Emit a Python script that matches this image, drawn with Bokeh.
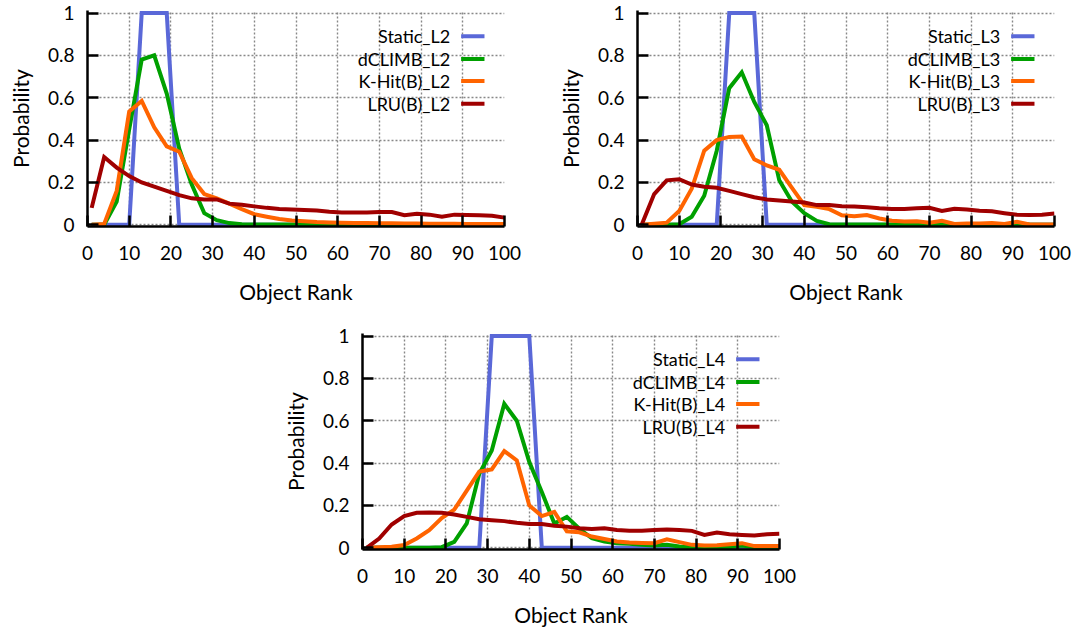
from bokeh.plotting import figure
from bokeh.models import Range1d, FixedTicker, CustomJSTickFormatter, Spacer
from bokeh.layouts import column, row
from bokeh.core.properties import value
from bokeh.embed import file_html
from bokeh.resources import INLINE

# ---------------- data ----------------
rank = [1, 4, 7, 10, 13, 16, 19, 22, 25, 28, 31, 34, 37, 40, 43, 46, 49,
        52, 55, 58, 61, 64, 67, 70, 73, 76, 79, 82, 85, 88, 91, 94, 97, 100]

x_ticks = [0, 10, 20, 30, 40, 50, 60, 70, 80, 90, 100]
y_ticks = [0, 0.2, 0.4, 0.6, 0.8, 1.0]

series_names = ["Static", "dCLIMB", "K-Hit(B)", "LRU(B)"]
levels = ["L2", "L3", "L4"]

static_L2 = [0, 0, 0, 0, 1, 1, 1, 0, 0, 0, 0, 0, 0, 0, 0, 0, 0,
             0, 0, 0, 0, 0, 0, 0, 0, 0, 0, 0, 0, 0, 0, 0, 0, 0]
dclimb_L2 = [0.0, 0.0, 0.11, 0.45, 0.78, 0.80, 0.62, 0.36, 0.19, 0.055, 0.022, 0.008, 0.003, 0.002, 0.001, 0.001, 0.001,
             0.001, 0.001, 0.0, 0.0, 0.0, 0.0, 0.0, 0.0, 0.0, 0.0, 0.0, 0.0, 0.0, 0.0, 0.0, 0.0, 0.0]
khit_L2 = [0.0, 0.004, 0.16, 0.535, 0.585, 0.46, 0.37, 0.345, 0.22, 0.145, 0.125, 0.10, 0.074, 0.05, 0.038, 0.027, 0.02,
           0.017, 0.013, 0.011, 0.01, 0.009, 0.008, 0.007, 0.007, 0.006, 0.006, 0.005, 0.005, 0.005, 0.004, 0.004, 0.004, 0.004]
lru_L2 = [0.08, 0.32, 0.27, 0.23, 0.20, 0.18, 0.16, 0.14, 0.125, 0.12, 0.12, 0.10, 0.095, 0.087, 0.08, 0.075, 0.072,
          0.07, 0.068, 0.062, 0.058, 0.058, 0.058, 0.06, 0.06, 0.045, 0.052, 0.048, 0.038, 0.048, 0.046, 0.045, 0.043, 0.034]

static_L3 = [0, 0, 0, 0, 0, 0, 0, 1, 1, 1, 0, 0, 0, 0, 0, 0, 0,
             0, 0, 0, 0, 0, 0, 0, 0, 0, 0, 0, 0, 0, 0, 0, 0, 0]
dclimb_L3 = [0.0, 0.0, 0.0, 0.003, 0.038, 0.137, 0.35, 0.645, 0.72, 0.58, 0.47, 0.21, 0.11, 0.055, 0.018, 0.003, 0.002,
             0.001, 0.001, 0.001, 0.001, 0.001, 0.001, 0.001, 0.005, 0.001, 0.001, 0.001, 0.001, 0.001, 0.005, 0.001, 0.0, 0.0]
khit_L3 = [0.0, 0.005, 0.01, 0.065, 0.17, 0.35, 0.40, 0.415, 0.417, 0.31, 0.28, 0.26, 0.176, 0.093, 0.085, 0.074, 0.045,
           0.04, 0.046, 0.03, 0.019, 0.016, 0.017, 0.01, 0.019, 0.004, 0.006, 0.006, 0.008, 0.004, 0.014, 0.002, 0.002, 0.002]
lru_L3 = [0.0, 0.145, 0.21, 0.215, 0.19, 0.18, 0.175, 0.16, 0.145, 0.13, 0.12, 0.115, 0.11, 0.105, 0.093, 0.093, 0.088,
          0.086, 0.083, 0.078, 0.075, 0.075, 0.078, 0.08, 0.065, 0.076, 0.072, 0.066, 0.064, 0.055, 0.047, 0.046, 0.047, 0.053]

static_L4 = [0, 0, 0, 0, 0, 0, 0, 0, 0, 0, 1, 1, 1, 1, 0, 0, 0,
             0, 0, 0, 0, 0, 0, 0, 0, 0, 0, 0, 0, 0, 0, 0, 0, 0]
dclimb_L4 = [0.0, 0.0, 0.0, 0.0, 0.0, 0.0, 0.003, 0.028, 0.115, 0.35, 0.46, 0.68, 0.60, 0.405, 0.264, 0.115, 0.146,
             0.09, 0.045, 0.03, 0.022, 0.019, 0.014, 0.011, 0.014, 0.006, 0.003, 0.003, 0.003, 0.003, 0.011, 0.003, 0.002, 0.002]
khit_L4 = [0.0, 0.003, 0.005, 0.013, 0.044, 0.083, 0.14, 0.18, 0.27, 0.36, 0.37, 0.457, 0.413, 0.2, 0.15, 0.17, 0.078,
           0.073, 0.053, 0.042, 0.03, 0.025, 0.023, 0.022, 0.04, 0.027, 0.014, 0.011, 0.0125, 0.017, 0.022, 0.008, 0.009, 0.009]
lru_L4 = [0.0, 0.044, 0.11, 0.15, 0.165, 0.167, 0.165, 0.157, 0.146, 0.135, 0.13, 0.126, 0.118, 0.112, 0.112, 0.104, 0.1,
          0.092, 0.089, 0.092, 0.084, 0.081, 0.08, 0.084, 0.087, 0.084, 0.08, 0.061, 0.072, 0.064, 0.061, 0.058, 0.064, 0.066]

panel_data = {
    "L2": [static_L2, dclimb_L2, khit_L2, lru_L2],
    "L3": [static_L3, dclimb_L3, khit_L3, lru_L3],
    "L4": [static_L4, dclimb_L4, khit_L4, lru_L4],
}

# ---------------- style ----------------
colors = ["#5a68d8", "#00a000", "#ff6400", "#a00000"]
FONT = "Lato"
LINE_W = 4

# legend placement (in data units of each panel)
LEG_TEXT_X = 87.0
LEG_LINE_X0 = 89.6
LEG_LINE_X1 = 95.2
LEG_Y = [0.89, 0.783, 0.679, 0.572]


def make_panel(level, border_left, border_right, border_top, border_bottom):
    p = figure(frame_width=417, frame_height=216,
               x_range=Range1d(0, 100), y_range=Range1d(-0.008, 1.012),
               output_backend="svg", toolbar_location=None,
               min_border_left=border_left, min_border_right=border_right,
               min_border_top=border_top, min_border_bottom=border_bottom,
               background_fill_color="white", border_fill_color="white")
    p.outline_line_color = None

    p.xaxis.ticker = FixedTicker(ticks=x_ticks)
    p.yaxis.ticker = FixedTicker(ticks=y_ticks)
    p.yaxis.formatter = CustomJSTickFormatter(code="return String(Math.round(tick*10)/10);")

    for ax in (p.xaxis[0], p.yaxis[0]):
        ax.axis_line_width = 2.5
        ax.axis_line_color = "black"
        ax.major_tick_line_width = 2.5
        ax.major_tick_line_color = "black"
        ax.major_tick_in = 11
        ax.major_tick_out = 0
        ax.minor_tick_in = 0
        ax.minor_tick_out = 0
        ax.major_label_text_font = FONT
        ax.major_label_text_font_size = "19px"
        ax.major_label_text_color = "black"
        ax.axis_label_text_font = FONT
        ax.axis_label_text_font_size = "21px"
        ax.axis_label_text_font_style = "normal"
        ax.axis_label_text_color = "black"

    p.xaxis.axis_label = "Object Rank"
    p.yaxis.axis_label = "Probability"
    p.xaxis.major_label_standoff = 19
    p.xaxis.axis_label_standoff = 16
    p.yaxis.major_label_standoff = 13
    p.yaxis.axis_label_standoff = 12

    p.grid.grid_line_color = "#888888"
    p.grid.grid_line_dash = "2 2"
    p.grid.grid_line_width = 1.4

    ys = panel_data[level]
    for name, y, c in zip(series_names, ys, colors):
        p.line(rank, y, line_color=c, line_width=LINE_W, line_join="miter")

    # legend: text right-aligned, sample line to its right
    labels = [f"{n}_{level}" for n in series_names]
    p.text(x=[LEG_TEXT_X] * 4, y=LEG_Y, text=labels,
           text_font=value(FONT), text_font_size="18px",
           text_align="right", text_baseline="middle", text_color="black")
    for yy, c in zip(LEG_Y, colors):
        p.line([LEG_LINE_X0, LEG_LINE_X1], [yy, yy], line_color=c, line_width=LINE_W)
    return p


p1 = make_panel("L2", 87, 36, 10, 84)
p2 = make_panel("L3", 97, 30, 10, 84)
p3 = make_panel("L4", 87, 36, 23, 80)

layout = column(row(p1, p2), row(Spacer(width=275, height=10), p3))

open("out.html", "w").write(file_html(layout, INLINE))
